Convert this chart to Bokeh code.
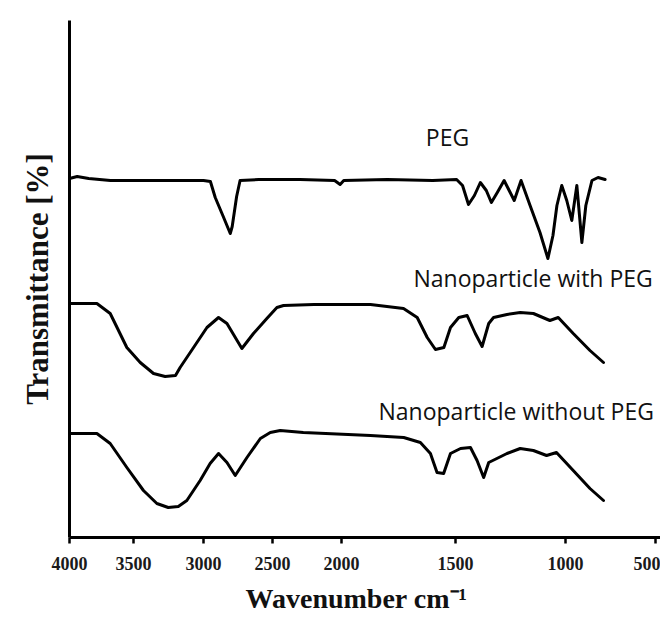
import numpy as np
from bokeh.plotting import figure
from bokeh.models import Range1d, FixedTicker, Label, Title
from bokeh.embed import file_html
from bokeh.resources import INLINE

# ---- x axis: FTIR instrument scale (expanded below 2000 cm-1) ----
TICK_WN = [4000, 3500, 3000, 2500, 2000, 1500, 1000, 500]
TICK_LABELS = ["4000", "3500", "3000", "2500", "2000", "1500", "1000", "500"]
SCALE_POS = [0, 64, 134, 203, 272, 386, 496, 586]

# ---- spectra (wavenumber cm-1, transmittance in arbitrary offset units) ----
PEG_WN = [4000, 3940, 3850, 3680, 3300, 3000, 2950, 2915, 2860, 2806, 2792, 2760, 2735,
          2600, 2300, 2050, 2010, 1990, 1800, 1600, 1495, 1468, 1441, 1414, 1387, 1360,
          1337, 1310, 1279, 1256, 1233, 1202, 1161, 1116, 1080, 1057, 1039, 1017, 993,
          965, 937, 909, 887, 853, 819, 780]
PEG_T = [359, 361, 359, 357, 357, 357, 356, 340, 322, 304, 311, 341, 357,
         358, 358, 357, 353, 357, 358, 357, 358, 352, 333, 342, 355, 347,
         335, 345, 357, 347, 337, 357, 332, 305, 279, 302, 332, 352, 337,
         317, 352, 295, 332, 357, 360, 358]

NPP_WN = [4000, 3786, 3682, 3552, 3452, 3357, 3274, 3200, 3167, 3071, 2975, 2891, 2830,
          2722, 2638, 2541, 2468, 2420, 2200, 1873, 1728, 1668, 1624, 1588, 1551, 1522,
          1485, 1447, 1410, 1379, 1349, 1327, 1266, 1206, 1146, 1071, 1033, 957, 864, 789]
NPP_T = [234, 234, 224, 190, 175, 164, 161, 162, 170, 190, 210, 220, 214,
         189, 204, 219, 230, 232, 233, 233, 229, 220, 200, 188, 190, 210,
         220, 222, 204, 191, 214, 220, 223, 225, 224, 217, 220, 204, 187, 175]

NP_WN = [4000, 3786, 3682, 3552, 3429, 3333, 3252, 3180, 3119, 3024, 2952, 2891, 2830,
         2770, 2685, 2588, 2516, 2444, 2277, 1873, 1727, 1654, 1610, 1581, 1552, 1522,
         1477, 1432, 1402, 1372, 1349, 1312, 1266, 1206, 1146, 1086, 1041, 957, 864, 789]
NP_T = [104, 104, 94, 70, 47, 34, 30, 31, 37, 57, 74, 84, 75,
        62, 80, 99, 105, 107, 105, 102, 100, 95, 84, 65, 64, 84,
        89, 90, 77, 60, 75, 79, 84, 89, 87, 82, 85, 67, 49, 37]

SERIES_NAMES = ["PEG", "Nanoparticle with PEG", "Nanoparticle without PEG"]
X_TITLE = "Wavenumber cm\u207b\u00b9"
Y_TITLE = "Transmittance [%]"


def to_axis(wn):
    return np.interp(-np.asarray(wn, float), -np.asarray(TICK_WN, float), SCALE_POS)


p = figure(frame_width=591, frame_height=517, output_backend="svg", toolbar_location=None,
           x_range=Range1d(0, 591), y_range=Range1d(0, 517),
           min_border_left=69, min_border_right=0, min_border_top=20, min_border_bottom=80)
p.outline_line_color = None
p.grid.visible = False
p.background_fill_color = "white"
p.border_fill_color = "white"

for wn, t in [(PEG_WN, PEG_T), (NPP_WN, NPP_T), (NP_WN, NP_T)]:
    p.line(to_axis(wn), t, line_width=3, line_color="black", line_join="round", line_cap="round")

# x axis
xa = p.xaxis[0]
xa.ticker = FixedTicker(ticks=SCALE_POS)
xa.major_label_overrides = dict(zip(SCALE_POS, TICK_LABELS))
xa.axis_line_width = 3
xa.axis_line_color = "black"
xa.major_tick_line_width = 2.5
xa.major_tick_line_color = "black"
xa.major_tick_out = 6
xa.major_tick_in = 0
xa.minor_tick_line_color = None
xa.major_label_text_font = "Liberation Serif"
xa.major_label_text_font_style = "bold"
xa.major_label_text_font_size = "18px"
xa.major_label_text_color = "#1a1a1a"
xa.major_label_standoff = 13

# y axis (no ticks)
ya = p.yaxis[0]
ya.ticker = FixedTicker(ticks=[])
ya.axis_line_width = 3
ya.axis_line_color = "black"
ya.major_tick_line_color = None
ya.minor_tick_line_color = None
ya.major_label_text_font_size = "0px"

# axis titles
p.add_layout(Title(text=X_TITLE, align="left", offset=176, text_font="Liberation Serif",
                   text_font_style="bold", text_font_size="28px", text_color="#111111",
                   standoff=16), "below")
p.add_layout(Title(text=Y_TITLE, align="center", text_font="Liberation Serif",
                   text_font_style="bold", text_font_size="31px", text_color="#111111",
                   standoff=30), "left")

# series labels
p.add_layout(Label(x=378, y=385, text=SERIES_NAMES[0], text_align="center",
                   text_font="Open Sans", text_font_size="23px", text_color="#111111"))
p.add_layout(Label(x=344, y=244, text=SERIES_NAMES[1], text_align="left",
                   text_font="Open Sans", text_font_size="23px", text_color="#111111"))
p.add_layout(Label(x=309, y=111, text=SERIES_NAMES[2], text_align="left",
                   text_font="Open Sans", text_font_size="23px", text_color="#111111"))

open("out.html", "w").write(file_html(p, INLINE))
